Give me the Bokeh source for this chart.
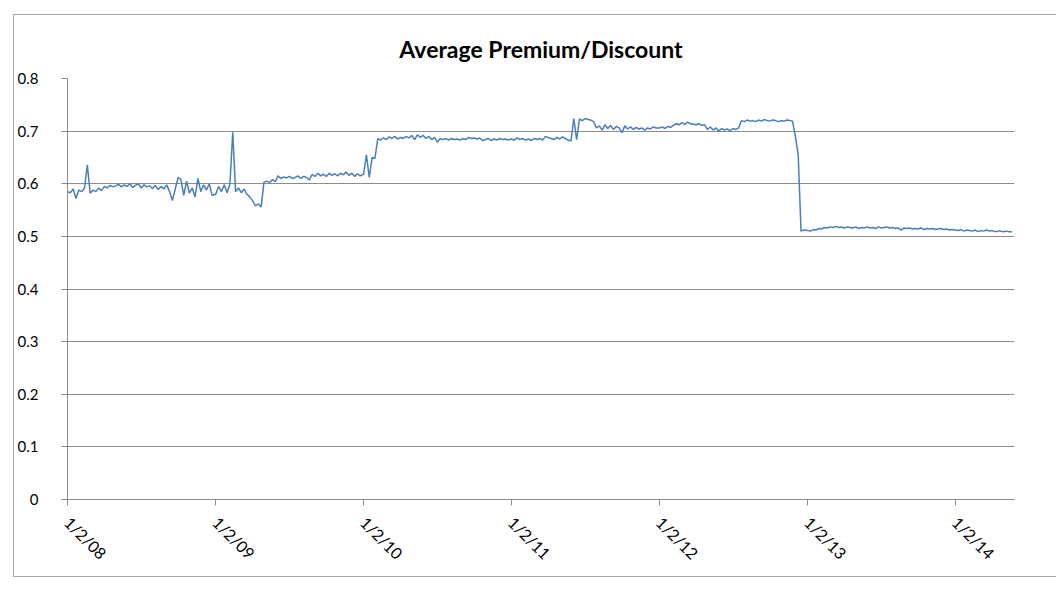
import pandas as pd
from bokeh.plotting import figure
from bokeh.models import FixedTicker, CustomJSTickFormatter, Range1d
from bokeh.embed import file_html
from bokeh.resources import INLINE

# Weekly average premium/discount, one list per calendar year (weeks from Jan 2)
vals_2008 = [0.585, 0.583, 0.590, 0.572, 0.588, 0.585, 0.592, 0.636, 0.582, 0.588,
             0.585, 0.592, 0.587, 0.595, 0.592, 0.597, 0.594, 0.596, 0.599, 0.594,
             0.598, 0.595, 0.600, 0.593, 0.597, 0.600, 0.592, 0.598, 0.594, 0.596,
             0.591, 0.597, 0.589, 0.595, 0.590, 0.598, 0.585, 0.568, 0.590, 0.612,
             0.608, 0.578, 0.605, 0.582, 0.592, 0.575, 0.610, 0.585, 0.598, 0.588,
             0.600, 0.578]
vals_2009 = [0.580, 0.595, 0.585, 0.598, 0.583, 0.600, 0.698, 0.585, 0.592, 0.583,
             0.590, 0.580, 0.575, 0.568, 0.558, 0.562, 0.556, 0.603, 0.605, 0.602,
             0.608, 0.604, 0.615, 0.610, 0.613, 0.611, 0.614, 0.610, 0.612, 0.615,
             0.610, 0.614, 0.612, 0.607, 0.618, 0.614, 0.620, 0.615, 0.618, 0.614,
             0.620, 0.616, 0.619, 0.615, 0.620, 0.617, 0.622, 0.616, 0.620, 0.614,
             0.619, 0.615]
vals_2010 = [0.618, 0.655, 0.612, 0.650, 0.648, 0.686, 0.683, 0.687, 0.684, 0.689,
             0.686, 0.690, 0.685, 0.688, 0.686, 0.690, 0.687, 0.692, 0.684, 0.693,
             0.688, 0.692, 0.686, 0.690, 0.684, 0.688, 0.679, 0.686, 0.684, 0.686,
             0.683, 0.686, 0.684, 0.685, 0.683, 0.686, 0.684, 0.688, 0.686, 0.687,
             0.685, 0.687, 0.682, 0.684, 0.686, 0.682, 0.685, 0.683, 0.686, 0.684,
             0.685, 0.683]
vals_2011 = [0.685, 0.683, 0.687, 0.684, 0.686, 0.683, 0.685, 0.682, 0.686, 0.684,
             0.686, 0.683, 0.690, 0.688, 0.686, 0.684, 0.688, 0.685, 0.689, 0.686,
             0.683, 0.681, 0.724, 0.684, 0.723, 0.720, 0.724, 0.722, 0.721, 0.718,
             0.706, 0.710, 0.702, 0.712, 0.705, 0.711, 0.703, 0.709, 0.706, 0.697,
             0.710, 0.704, 0.708, 0.703, 0.707, 0.704, 0.706, 0.702, 0.706, 0.704,
             0.708, 0.706]
vals_2012 = [0.706, 0.708, 0.705, 0.709, 0.707, 0.711, 0.714, 0.712, 0.716, 0.713,
             0.717, 0.714, 0.713, 0.712, 0.714, 0.711, 0.712, 0.703, 0.708, 0.702,
             0.706, 0.700, 0.705, 0.702, 0.704, 0.701, 0.705, 0.703, 0.706, 0.720,
             0.718, 0.721, 0.719, 0.720, 0.718, 0.721, 0.719, 0.722, 0.720, 0.719,
             0.721, 0.720, 0.718, 0.720, 0.719, 0.721, 0.720, 0.719, 0.690, 0.655,
             0.510, 0.512]
vals_2013 = [0.511, 0.510, 0.513, 0.512, 0.515, 0.514, 0.517, 0.516, 0.518, 0.517,
             0.519, 0.517, 0.518, 0.516, 0.518, 0.517, 0.516, 0.518, 0.515, 0.517,
             0.516, 0.518, 0.516, 0.517, 0.515, 0.518, 0.516, 0.517, 0.518, 0.516,
             0.517, 0.515, 0.516, 0.512, 0.516, 0.515, 0.516, 0.514, 0.515, 0.514,
             0.516, 0.513, 0.515, 0.514, 0.515, 0.513, 0.514, 0.515, 0.513, 0.514,
             0.512, 0.513]
vals_2014 = [0.512, 0.511, 0.513, 0.510, 0.512, 0.511, 0.510, 0.512, 0.509, 0.511,
             0.510, 0.512, 0.510, 0.511, 0.509, 0.510, 0.510, 0.509, 0.510, 0.509,
             0.509]

series = {2008: vals_2008, 2009: vals_2009, 2010: vals_2010, 2011: vals_2011,
          2012: vals_2012, 2013: vals_2013, 2014: vals_2014}

tick_years = [2008, 2009, 2010, 2011, 2012, 2013, 2014]
y_ticks = [0, 0.1, 0.2, 0.3, 0.4, 0.5, 0.6, 0.7, 0.8]

dates, values = [], []
for yr, vals in series.items():
    dates.extend(pd.date_range(start=f"{yr}-01-02", periods=len(vals), freq="7D"))
    values.extend(vals)

FONT = "Lato"
GRID = "#8c8c8c"

p = figure(width=1043, height=563, x_axis_type="datetime",
           output_backend="svg", toolbar_location=None,
           title="Average Premium/Discount",
           min_border_left=52, min_border_right=43,
           min_border_top=63, min_border_bottom=79,
           margin=(14, 0, 0, 13))
p.styles = {"border-top": "1px solid #a6a6a6",
            "border-left": "1px solid #a6a6a6",
            "border-bottom": "1px solid #a6a6a6"}

p.x_range = Range1d(pd.Timestamp("2008-01-02"), pd.Timestamp("2014-05-28"))
p.y_range = Range1d(0, 0.8)

p.line(dates, values, line_color="#4a7ebb", line_width=1.5)

p.title.align = "center"
p.title.text_font = FONT
p.title.text_font_size = "23px"
p.title.text_font_style = "bold"
p.title.text_color = "black"
p.title.standoff = 32

tick_ms = [pd.Timestamp(f"{y}-01-02").value / 1e6 for y in tick_years]
xa = p.xaxis[0]
xa.ticker = FixedTicker(ticks=tick_ms)
xa.formatter = CustomJSTickFormatter(code="""
    const d = new Date(tick);
    return (d.getUTCMonth() + 1) + "/" + d.getUTCDate() + "/" +
           String(d.getUTCFullYear()).slice(2);
""")
xa.major_label_orientation = -0.785398
xa.major_label_standoff = 14
xa.minor_tick_line_color = None
xa.major_tick_in = 0
xa.major_tick_out = 6
xa.axis_line_color = GRID
xa.major_tick_line_color = GRID
xa.major_label_text_font = FONT
xa.major_label_text_font_size = "16px"
xa.major_label_text_color = "black"

ya = p.yaxis[0]
ya.ticker = FixedTicker(ticks=y_ticks)
ya.formatter = CustomJSTickFormatter(code="return tick === 0 ? '0' : tick.toFixed(1);")
ya.minor_tick_line_color = None
ya.major_tick_in = 0
ya.major_tick_out = 6
ya.axis_line_color = GRID
ya.major_tick_line_color = GRID
ya.major_label_text_font = FONT
ya.major_label_text_font_size = "15px"
ya.major_label_text_color = "black"
ya.major_label_standoff = 23

p.xgrid.grid_line_color = None
p.ygrid.grid_line_color = GRID
p.ygrid.grid_line_width = 1
p.outline_line_color = None
p.background_fill_color = "white"
p.border_fill_color = "white"

open("out.html", "w").write(file_html(p, INLINE))
